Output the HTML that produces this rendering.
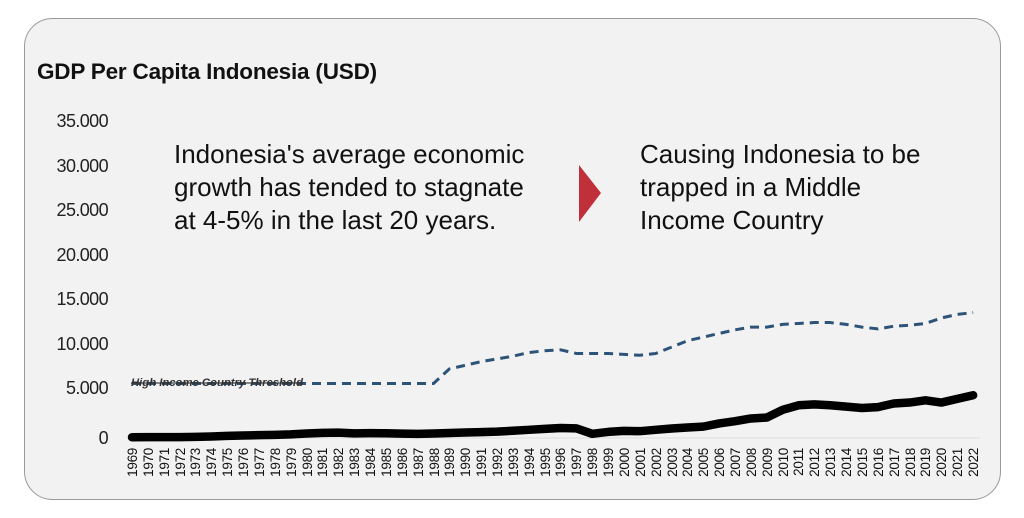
<!DOCTYPE html>
<html><head><meta charset="utf-8"><style>
html,body{margin:0;padding:0;background:#fff;}
svg{display:block;font-family:"Liberation Sans",Arial,sans-serif;}
</style></head><body>
<svg width="1024" height="518" viewBox="0 0 1024 518" xmlns="http://www.w3.org/2000/svg">
<rect x="24.5" y="18.5" width="976" height="481" rx="28" fill="#f2f2f2" stroke="#9a9a9a" stroke-width="1"/>
<text x="37" y="79" font-size="22.5" font-weight="bold" fill="#111" letter-spacing="-0.2">GDP Per Capita Indonesia (USD)</text>
<g font-size="18" fill="#222" text-anchor="end" letter-spacing="-0.6">
<text x="108" y="127">35.000</text>
<text x="108" y="172">30.000</text>
<text x="108" y="216">25.000</text>
<text x="108" y="261">20.000</text>
<text x="108" y="305">15.000</text>
<text x="108" y="350">10.000</text>
<text x="108" y="394">5.000</text>
<text x="108" y="444">0</text>
</g>
<g font-size="26" fill="#111">
<text x="174" y="163">Indonesia's average economic</text>
<text x="174" y="196">growth has tended to stagnate</text>
<text x="174" y="229">at 4-5% in the last 20 years.</text>
<text x="640" y="163">Causing Indonesia to be</text>
<text x="640" y="196">trapped in a Middle</text>
<text x="640" y="229">Income Country</text>
</g>
<polygon points="579,165 601,193 579,222" fill="#c0303a"/>
<line x1="128" y1="438" x2="980" y2="438" stroke="#dcdcdc" stroke-width="1"/>
<g transform="translate(132,438) scale(15.87,-0.00909)">
<polyline fill="none" stroke="#2d5478" stroke-width="3" stroke-dasharray="9,6" vector-effect="non-scaling-stroke" stroke-linejoin="round"
points="0,6000 19,6000 20,7600 21,8000 22,8400 23,8700 24,9000 25,9400 26,9600 27,9700 28,9300 29,9300 30,9300 31,9200 32,9100 33,9300 34,10000 35,10700 36,11100 37,11500 38,11900 39,12200 40,12200 41,12500 42,12600 43,12700 44,12700 45,12500 46,12200 47,12000 48,12300 49,12400 50,12600 51,13200 52,13600 53,13800"/>
<polyline fill="none" stroke="#000" stroke-width="8.5" vector-effect="non-scaling-stroke" stroke-linejoin="round" stroke-linecap="round"
points="0,80 1,90 2,90 3,100 4,130 5,170 6,230 7,270 8,310 9,340 10,400 11,500 12,570 13,590 14,510 15,530 16,520 17,480 18,450 19,500 20,550 21,600 22,650 23,700 24,800 25,900 26,1000 27,1100 28,1060 29,460 30,670 31,780 32,750 33,900 34,1050 35,1150 36,1250 37,1600 38,1850 39,2150 40,2250 41,3100 42,3600 43,3700 44,3600 45,3450 46,3300 47,3400 48,3800 49,3900 50,4150 51,3900 52,4300 53,4700"/>
</g>
<text x="131" y="386" font-size="11.3" font-style="italic" font-weight="bold" fill="#333" text-decoration="line-through">High Income Country Threshold</text>
<g font-size="13.5" fill="#111" text-anchor="end" letter-spacing="-0.3">
<text transform="translate(137,448) rotate(-90)">1969</text>
<text transform="translate(153,448) rotate(-90)">1970</text>
<text transform="translate(169,448) rotate(-90)">1971</text>
<text transform="translate(185,448) rotate(-90)">1972</text>
<text transform="translate(200,448) rotate(-90)">1973</text>
<text transform="translate(216,448) rotate(-90)">1974</text>
<text transform="translate(232,448) rotate(-90)">1975</text>
<text transform="translate(248,448) rotate(-90)">1976</text>
<text transform="translate(264,448) rotate(-90)">1977</text>
<text transform="translate(280,448) rotate(-90)">1978</text>
<text transform="translate(296,448) rotate(-90)">1979</text>
<text transform="translate(312,448) rotate(-90)">1980</text>
<text transform="translate(327,448) rotate(-90)">1981</text>
<text transform="translate(343,448) rotate(-90)">1982</text>
<text transform="translate(359,448) rotate(-90)">1983</text>
<text transform="translate(375,448) rotate(-90)">1984</text>
<text transform="translate(391,448) rotate(-90)">1985</text>
<text transform="translate(407,448) rotate(-90)">1986</text>
<text transform="translate(423,448) rotate(-90)">1987</text>
<text transform="translate(439,448) rotate(-90)">1988</text>
<text transform="translate(454,448) rotate(-90)">1989</text>
<text transform="translate(470,448) rotate(-90)">1990</text>
<text transform="translate(486,448) rotate(-90)">1991</text>
<text transform="translate(502,448) rotate(-90)">1992</text>
<text transform="translate(518,448) rotate(-90)">1993</text>
<text transform="translate(534,448) rotate(-90)">1994</text>
<text transform="translate(550,448) rotate(-90)">1995</text>
<text transform="translate(565,448) rotate(-90)">1996</text>
<text transform="translate(581,448) rotate(-90)">1997</text>
<text transform="translate(597,448) rotate(-90)">1998</text>
<text transform="translate(613,448) rotate(-90)">1999</text>
<text transform="translate(629,448) rotate(-90)">2000</text>
<text transform="translate(645,448) rotate(-90)">2001</text>
<text transform="translate(661,448) rotate(-90)">2002</text>
<text transform="translate(677,448) rotate(-90)">2003</text>
<text transform="translate(692,448) rotate(-90)">2004</text>
<text transform="translate(708,448) rotate(-90)">2005</text>
<text transform="translate(724,448) rotate(-90)">2006</text>
<text transform="translate(740,448) rotate(-90)">2007</text>
<text transform="translate(756,448) rotate(-90)">2008</text>
<text transform="translate(772,448) rotate(-90)">2009</text>
<text transform="translate(788,448) rotate(-90)">2010</text>
<text transform="translate(803,448) rotate(-90)">2011</text>
<text transform="translate(819,448) rotate(-90)">2012</text>
<text transform="translate(835,448) rotate(-90)">2013</text>
<text transform="translate(851,448) rotate(-90)">2014</text>
<text transform="translate(867,448) rotate(-90)">2015</text>
<text transform="translate(883,448) rotate(-90)">2016</text>
<text transform="translate(899,448) rotate(-90)">2017</text>
<text transform="translate(915,448) rotate(-90)">2018</text>
<text transform="translate(930,448) rotate(-90)">2019</text>
<text transform="translate(946,448) rotate(-90)">2020</text>
<text transform="translate(962,448) rotate(-90)">2021</text>
<text transform="translate(978,448) rotate(-90)">2022</text>
</g>
</svg>
</body></html>
